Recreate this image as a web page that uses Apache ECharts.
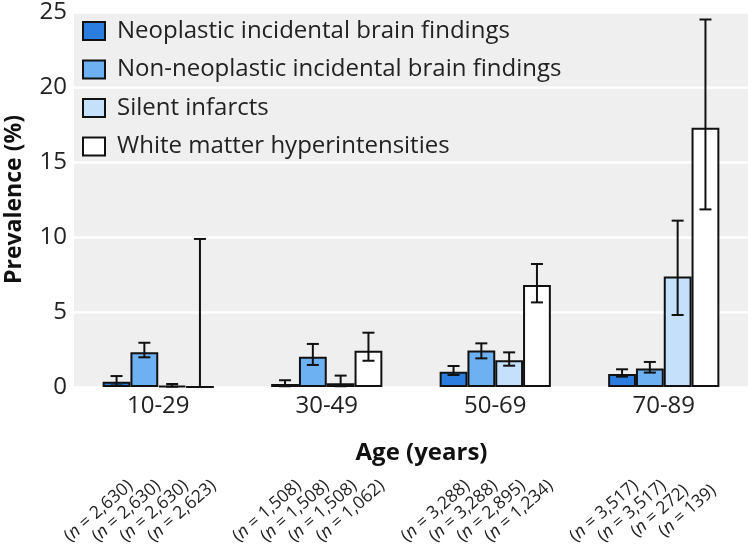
<!DOCTYPE html>
<html>
<head>
<meta charset="utf-8">
<script src="https://cdn.jsdelivr.net/npm/echarts@6/dist/echarts.min.js"></script>
<style>
  html, body { margin: 0; padding: 0; background: #fff; }
  #chart { width: 748px; height: 546px; }
</style>
</head>
<body>
<div id="chart"></div>
<script>
var ageGroups = ['10-29', '30-49', '50-69', '70-89'];
var seriesNames = [
  'Neoplastic incidental brain findings',
  'Non-neoplastic incidental brain findings',
  'Silent infarcts',
  'White matter hyperintensities'
];
var seriesColors = ['#2b7de0', '#6eb1f2', '#c4e0fa', '#ffffff'];

// prevalence (%) and 95% CI per age group
var neoplastic = [0.35, 0.2, 1.02, 0.87];
var neoplasticLow = [0.1, 0.05, 0.8, 0.69];
var neoplasticHigh = [0.73, 0.45, 1.4, 1.18];

var nonNeoplastic = [2.31, 2.02, 2.44, 1.24];
var nonNeoplasticLow = [1.98, 1.47, 1.91, 0.96];
var nonNeoplasticHigh = [2.95, 2.87, 2.91, 1.67];

var silentInfarcts = [0.08, 0.25, 1.78, 7.36];
var silentInfarctsLow = [0.02, 0.05, 1.42, 4.8];
var silentInfarctsHigh = [0.2, 0.76, 2.31, 11.09];

var whiteMatter = [0, 2.42, 6.8, 17.29];
var whiteMatterLow = [0, 1.75, 5.64, 11.84];
var whiteMatterHigh = [9.87, 3.62, 8.2, 24.5];

// sample sizes under each bar
var nNeoplastic = ['2,630', '1,508', '3,288', '3,517'];
var nNonNeoplastic = ['2,630', '1,508', '3,288', '3,517'];
var nSilentInfarcts = ['2,630', '1,508', '2,895', '272'];
var nWhiteMatter = ['2,623', '1,062', '1,234', '139'];

var FONT = 'Open Sans';
var GAP = 0.34;
var N_SIZE = 17.5;

var values = [neoplastic, nonNeoplastic, silentInfarcts, whiteMatter];
var lows = [neoplasticLow, nonNeoplasticLow, silentInfarctsLow, whiteMatterLow];
var highs = [neoplasticHigh, nonNeoplasticHigh, silentInfarctsHigh, whiteMatterHigh];
var ns = [nNeoplastic, nNonNeoplastic, nSilentInfarcts, nWhiteMatter];

var errData = [];
for (var s = 0; s < 4; s++) {
  for (var c = 0; c < ageGroups.length; c++) {
    errData.push([c, lows[s][c], highs[s][c], s]);
  }
}

function renderErr(params, api) {
  var cat = api.value(0), lo = api.value(1), hi = api.value(2), s = api.value(3);
  var band = api.size([1, 0])[0];
  var bw = band * (1 - GAP) / 4;
  var p0 = api.coord([cat, 0]);
  var cx = p0[0] + (s - 1.5) * bw;
  var yLo = api.coord([cat, lo])[1];
  var yHi = api.coord([cat, hi])[1];
  var cap = 6;
  var st = { stroke: '#111', lineWidth: 2 };
  return {
    type: 'group',
    children: [
      { type: 'line', shape: { x1: cx, y1: yLo, x2: cx, y2: yHi }, style: st },
      { type: 'line', shape: { x1: cx - cap, y1: yHi, x2: cx + cap, y2: yHi }, style: st },
      { type: 'line', shape: { x1: cx - cap, y1: yLo, x2: cx + cap, y2: yLo }, style: st },
      {
        // sample size label, rotated under the bar
        type: 'text',
        x: cx - 18,
        y: p0[1] + 124,
        rotation: 41 * Math.PI / 180,
        style: {
          text: '{r|(}{i|n}{r| = ' + ns[s][cat] + ')}',
          fill: '#222',
          fontSize: N_SIZE,
          fontFamily: FONT,
          align: 'center',
          verticalAlign: 'middle',
          rich: {
            r: { fontSize: N_SIZE, fontFamily: FONT, fill: '#222' },
            i: { fontSize: N_SIZE, fontFamily: FONT, fontStyle: 'italic', fill: '#222' }
          }
        }
      }
    ]
  };
}

var chart = echarts.init(document.getElementById('chart'));

var series = seriesNames.map(function (name, i) {
  return {
    name: name,
    type: 'bar',
    data: values[i],
    barGap: '0%',
    barCategoryGap: (GAP * 100) + '%',
    itemStyle: { color: seriesColors[i], borderColor: '#111', borderWidth: 2 },
    z: 2
  };
});
series.push({
  type: 'custom',
  renderItem: renderErr,
  data: errData,
  encode: { x: 0, y: [1, 2] },
  clip: false,
  z: 3,
  silent: true
});

var option = {
  animation: false,
  backgroundColor: '#ffffff',
  textStyle: { fontFamily: FONT },
  grid: {
    left: 74, right: 0, top: 12, bottom: 159,
    containLabel: false,
    outerBoundsMode: 'none',
    show: true, backgroundColor: '#efefef', borderWidth: 0
  },
  legend: {
    data: seriesNames,
    orient: 'vertical',
    left: 82,
    top: 19,
    padding: 0,
    itemWidth: 22,
    itemHeight: 18,
    itemGap: 14.5,
    icon: 'rect',
    textStyle: { fontSize: 24, color: '#222', fontFamily: FONT, lineHeight: 24, padding: [0, 0, 0, 7] }
  },
  xAxis: {
    type: 'category',
    data: ageGroups,
    name: 'Age (years)',
    nameLocation: 'middle',
    nameGap: 54,
    nameTextStyle: { fontSize: 24, fontWeight: 'bold', color: '#111', fontFamily: FONT, padding: [0, 0, 0, 21] },
    axisLine: { show: false },
    axisTick: { show: false },
    axisLabel: { fontSize: 24, color: '#222', margin: 7, fontFamily: FONT }
  },
  yAxis: {
    type: 'value',
    min: 0,
    max: 25,
    interval: 5,
    name: 'Prevalence (%)',
    nameLocation: 'middle',
    nameGap: 48,
    nameTextStyle: { fontSize: 23, fontWeight: 'bold', color: '#111', fontFamily: FONT },
    axisLine: { show: false },
    axisTick: { show: false },
    axisLabel: { fontSize: 24, color: '#222', margin: 7, fontFamily: FONT },
    splitLine: { lineStyle: { color: '#ffffff', width: 2.5 } }
  },
  series: series
};

chart.setOption(option);
</script>
</body>
</html>
